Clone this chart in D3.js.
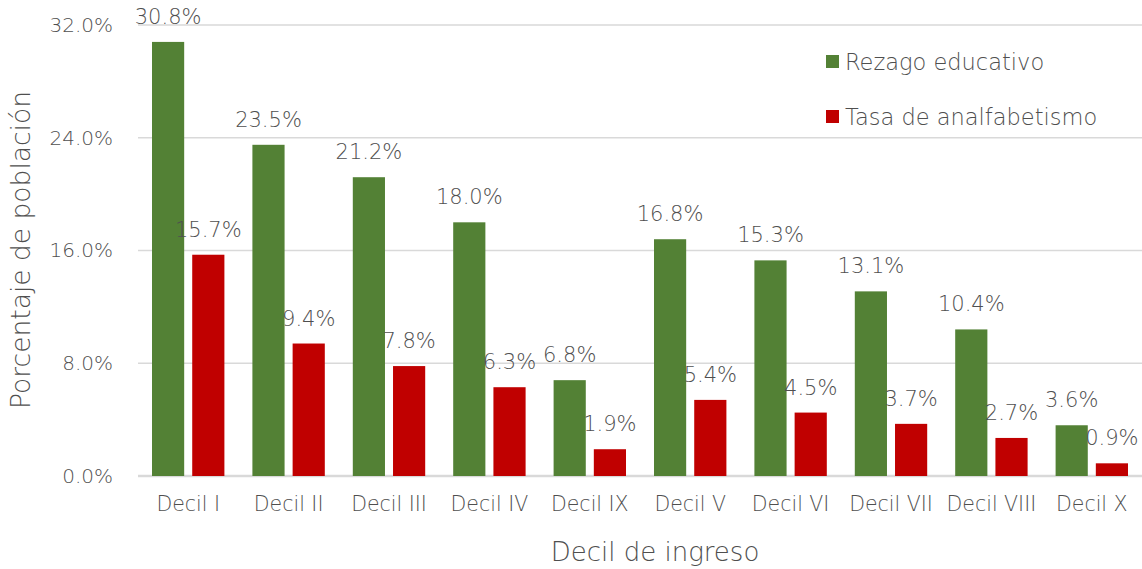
<!DOCTYPE html>
<html>
<head>
<meta charset="utf-8">
<script src="https://cdn.jsdelivr.net/npm/d3@7"></script>
<style>
  body { margin: 0; background: #fff; }
  text { font-family: "DejaVu Sans", sans-serif; font-weight: 200; fill: #4f4f4f; }
</style>
</head>
<body>
<div id="chart"></div>
<script>
const categories = ["Decil I", "Decil II", "Decil III", "Decil IV", "Decil IX", "Decil V", "Decil VI", "Decil VII", "Decil VIII", "Decil X"];
const rezago = [30.8, 23.5, 21.2, 18.0, 6.8, 16.8, 15.3, 13.1, 10.4, 3.6];
const analfabetismo = [15.7, 9.4, 7.8, 6.3, 1.9, 5.4, 4.5, 3.7, 2.7, 0.9];
const yTicks = [0, 8, 16, 24, 32];
const seriesNames = ["Rezago educativo", "Tasa de analfabetismo"];
const colors = ["#538135", "#C00000"];

const width = 1142, height = 569;
const margin = { top: 25, right: 0, bottom: 93, left: 138 };
const innerW = width - margin.left - margin.right,
  innerH = height - margin.top - margin.bottom;

const svg = d3.select("#chart").append("svg")
  .attr("width", width)
  .attr("height", height);

const g = svg.append("g")
  .attr("transform", "translate(" + margin.left + "," + margin.top + ")");

const x = d3.scaleBand().domain(categories).range([0, innerW]).paddingInner(0).paddingOuter(0);
const x1 = d3.scaleBand().domain([0, 1]).range([14, x.bandwidth() - 14]).paddingInner(0.2);
const y = d3.scaleLinear().domain([0, 32]).range([innerH, 0]);

// gridlines
g.selectAll(".grid")
  .data(yTicks)
  .enter()
  .append("line")
  .attr("x1", 0)
  .attr("x2", innerW)
  .attr("y1", d => y(d))
  .attr("y2", d => y(d))
  .attr("stroke", "#d9d9d9")
  .attr("stroke-width", d => d === 0 ? 2.5 : 1.5);

// y axis labels
const yAxis = g.append("g")
  .call(d3.axisLeft(y).tickValues(yTicks).tickFormat(d => d.toFixed(1) + "%").tickSize(0).tickPadding(25));
yAxis.select(".domain").remove();
yAxis.selectAll("text").style("font-size", "20px").attr("fill", "#4f4f4f");

// x axis labels
const xAxis = g.append("g")
  .attr("transform", "translate(0," + innerH + ")")
  .call(d3.axisBottom(x).tickSize(0).tickPadding(20));
xAxis.select(".domain").remove();
xAxis.selectAll("text").style("font-size", "20.5px").attr("fill", "#4f4f4f");
g.selectAll("g").attr("font-family", null);

const series = [rezago, analfabetismo];
series.forEach((vals, s) => {
  g.selectAll(".bar" + s)
    .data(vals)
    .enter()
    .append("rect")
    .attr("x", (d, i) => x(categories[i]) + x1(s))
    .attr("y", d => y(d))
    .attr("width", x1.bandwidth())
    .attr("height", d => y(0) - y(d))
    .attr("fill", colors[s]);

  g.selectAll(".lab" + s)
    .data(vals)
    .enter()
    .append("text")
    .attr("x", (d, i) => x(categories[i]) + x1(s) + x1.bandwidth() / 2)
    .attr("y", d => y(d) - 18)
    .attr("text-anchor", "middle")
    .style("font-size", "21px")
    .text(d => d.toFixed(1) + "%");
});

// legend
const legend = svg.append("g").attr("transform", "translate(826,62)");
seriesNames.forEach((name, i) => {
  const row = legend.append("g").attr("transform", "translate(0," + i * 55 + ")");
  row.append("rect").attr("x", 0).attr("y", -7).attr("width", 13).attr("height", 13).attr("fill", colors[i]);
  row.append("text").attr("x", 19).attr("y", 0).attr("dy", "0.35em").style("font-size", "22.5px").text(name);
});

// axis titles
svg.append("text")
  .attr("x", 655)
  .attr("y", 561)
  .attr("text-anchor", "middle")
  .style("font-size", "26px")
  .text("Decil de ingreso");

svg.append("text")
  .attr("transform", "translate(30,250) rotate(-90)")
  .attr("text-anchor", "middle")
  .style("font-size", "26.5px")
  .text("Porcentaje de población");
</script>
</body>
</html>
